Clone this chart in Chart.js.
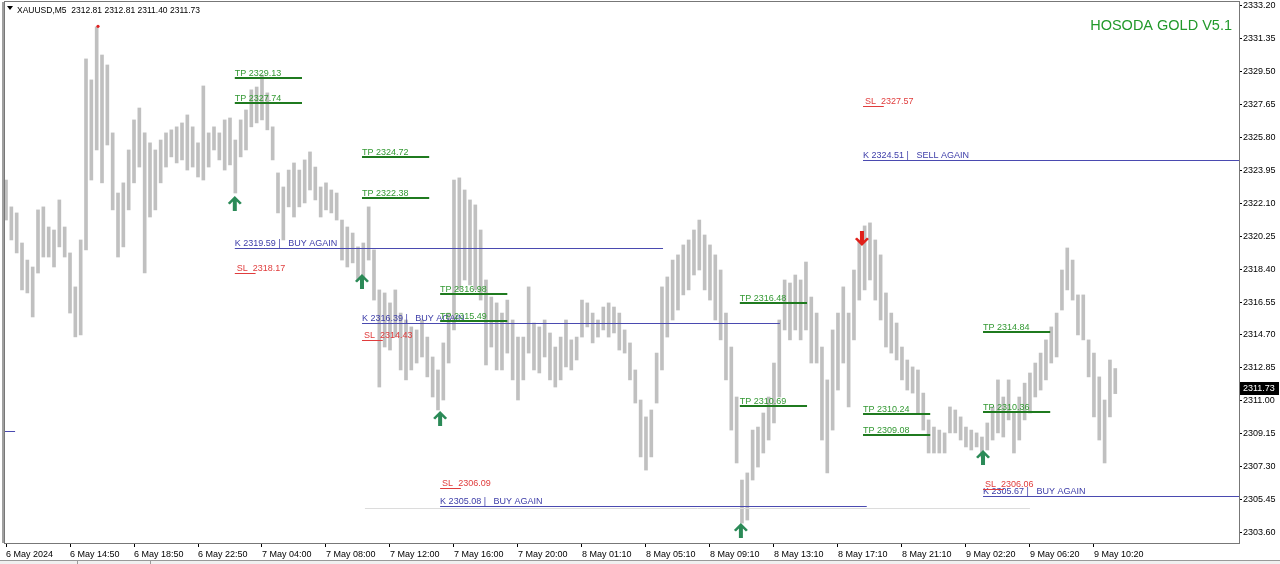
<!DOCTYPE html>
<html>
<head>
<meta charset="utf-8">
<script src="https://cdn.jsdelivr.net/npm/chart.js@4.4.1/dist/chart.umd.min.js"></script>
<style>
html,body{margin:0;padding:0;background:#fff;overflow:hidden}
canvas{display:block}
</style>
</head>
<body>
<canvas id="grafica" width="1280" height="564"></canvas>
<script>
//DATOS
// one bar = 20 min of M5 prices, tick label every 12 bars
const tickLabels=["6 May 2024","6 May 14:50","6 May 18:50","6 May 22:50","7 May 04:00","7 May 08:00","7 May 12:00","7 May 16:00","7 May 20:00","8 May 01:10","8 May 05:10","8 May 09:10","8 May 13:10","8 May 17:10","8 May 21:10","9 May 02:20","9 May 06:20","9 May 10:20"]
const yTicks=[2303.60,2305.45,2307.30,2309.15,2311.00,2312.85,2314.70,2316.55,2318.40,2320.25,2322.10,2323.95,2325.80,2327.65,2329.50,2331.35,2333.20]

const highs=[
2323.41,2321.90,2321.56,2319.87,2318.91,2318.52,2321.73,2321.90,2320.77,2320.60,
2322.29,2320.77,2319.31,2317.40,2320.04,2330.22,2329.04,2332.02,2330.44,2329.88,
2326.06,2322.68,2323.25,2325.10,2326.79,2327.46,2326.06,2325.50,2325.10,2325.66,
2326.06,2326.23,2326.40,2326.62,2327.07,2326.40,2325.50,2328.70,2326.06,2326.40,
2326.06,2326.79,2326.90,2325.66,2326.79,2327.35,2328.48,2328.64,2329.32,2328.31,
2326.40,2323.81,2323.02,2323.97,2324.37,2323.97,2324.54,2324.99,2324.14,2323.02,
2323.25,2322.85,2322.68,2321.16,2320.77,2320.43,2319.65,2319.87,2321.90,2319.48,
2317.23,2317.06,2316.50,2317.23,2315.93,2315.54,2315.15,2314.98,2315.54,2314.58,
2313.46,2312.73,2314.25,2315.93,2323.41,2323.53,2322.85,2322.29,2322.01,2320.60,
2317.79,2316.83,2316.50,2315.93,2316.66,2315.54,2314.58,2314.58,2317.40,2315.37,
2315.15,2315.54,2314.81,2314.02,2314.58,2315.54,2314.42,2314.58,2316.66,2316.50,
2315.93,2315.54,2316.27,2316.50,2316.27,2315.93,2314.98,2314.25,2312.73,2311.04,
2310.09,2310.48,2313.68,2317.40,2317.96,2318.91,2319.20,2319.76,2320.04,2320.60,
2321.16,2320.32,2319.76,2319.20,2318.35,2315.93,2314.02,2311.21,2306.54,2306.94,
2309.35,2309.52,2310.31,2311.21,2313.12,2315.54,2317.79,2317.62,2318.07,2317.79,
2318.80,2316.83,2315.93,2314.02,2312.17,2314.98,2315.93,2317.40,2315.93,2318.35,
2320.04,2320.83,2321.00,2320.04,2319.20,2317.06,2315.93,2315.37,2314.02,2313.29,
2312.90,2312.73,2311.43,2309.92,2309.52,2309.35,2309.19,2310.65,2310.48,2310.09,
2309.52,2309.35,2309.19,2308.96,2309.75,2310.65,2312.17,2311.21,2312.17,2310.31,
2311.21,2311.99,2312.56,2313.12,2313.68,2314.42,2315.15,2315.93,2318.35,2319.59,
2318.91,2316.95,2316.95,2314.42,2313.68,2312.34,2311.04,2313.29,2312.81]
const lows=[
2321.16,2320.04,2319.31,2317.23,2317.06,2315.71,2318.18,2319.08,2319.08,2318.52,
2319.65,2319.08,2315.93,2314.59,2314.70,2319.48,2323.41,2325.10,2323.25,2325.38,
2321.73,2319.08,2319.65,2321.73,2323.25,2324.14,2318.18,2321.33,2321.73,2323.25,
2324.14,2324.71,2324.37,2324.54,2323.97,2324.14,2323.58,2323.41,2324.14,2325.10,
2324.54,2323.97,2324.26,2322.68,2324.71,2325.10,2326.40,2326.62,2326.79,2326.23,
2324.54,2321.56,2320.04,2321.90,2321.33,2321.90,2322.12,2322.85,2322.29,2321.33,
2321.73,2321.56,2321.16,2318.91,2318.52,2318.75,2317.79,2317.96,2318.91,2316.66,
2311.77,2314.02,2313.85,2314.58,2312.73,2312.17,2312.73,2313.12,2313.46,2312.34,
2311.21,2310.48,2311.04,2313.12,2314.98,2317.23,2317.79,2317.51,2317.23,2316.66,
2313.01,2314.02,2312.73,2312.73,2313.68,2312.17,2311.04,2312.17,2313.68,2312.73,
2312.56,2313.46,2312.17,2311.77,2312.17,2312.90,2312.73,2313.29,2314.58,2315.15,
2314.25,2314.58,2314.98,2314.58,2314.81,2313.85,2313.68,2312.17,2310.87,2307.84,
2307.10,2307.84,2310.87,2312.73,2314.58,2315.54,2316.10,2316.95,2317.23,2318.07,
2318.35,2317.23,2316.66,2315.54,2314.42,2312.17,2309.35,2307.50,2304.12,2304.29,
2306.54,2307.27,2308.06,2308.79,2309.75,2311.21,2314.98,2314.42,2314.98,2314.42,
2314.98,2313.12,2313.12,2308.79,2306.94,2309.35,2311.60,2313.12,2310.65,2314.42,
2316.66,2317.23,2317.79,2316.66,2315.54,2314.02,2313.68,2313.29,2312.17,2311.60,
2311.43,2310.31,2309.35,2308.06,2308.06,2308.06,2308.06,2309.19,2309.19,2308.79,
2308.40,2308.23,2308.40,2307.84,2308.23,2308.79,2309.19,2308.96,2309.92,2308.06,
2308.79,2309.92,2310.31,2311.21,2311.60,2312.17,2313.12,2313.46,2316.10,2317.23,
2316.66,2314.70,2314.42,2312.34,2310.09,2308.79,2307.50,2310.09,2311.40]
const lastClose=2311.73

// niveles del indicador
const tpPrices=[2329.13,2327.74,2324.72,2322.38,2316.98,2315.49,2316.48,2310.69,2310.24,2309.08,2314.84,2310.36]
const tpFrom=[42.9,42.9,66.75,66.75,81.4,81.4,137.6,137.6,160.7,160.7,183.2,183.2]
const tpTo=[55.5,55.5,79.35,79.35,94,94,150.2,150.2,173.3,173.3,195.8,195.8]
const slPrices=[2318.17,2314.43,2306.09,2327.57,2306.06]
const slFrom=[42.9,66.75,81.4,160.7,183.2]
const slTo=[46.8,70.65,85.3,164.6,187.1]
const kPrices=[2319.59,2315.39,2305.08,2324.51,2305.67]
const kFrom=[42.9,66.75,81.4,160.7,183.2]
const kTo=[123.2,145.1,161.4,231.2,231.2]
const kTexts=["K 2319.59 |   BUY AGAIN","K 2316.39 |   BUY AGAIN","K 2305.08 |   BUY AGAIN","K 2324.51 |   SELL AGAIN","K 2305.67 |   BUY AGAIN"]
const upArrowBar=[42.9,66.75,81.4,137.8,183.2]
const upArrowPrice=[2322.51,2318.13,2310.42,2304.12,2308.23]
const downArrowBar=[160.5]
const downArrowPrice=[2319.70]
const dotBar=17.25
const dotPrice=2332.05

//CONFIG
const axisFont="'Liberation Sans',Arial,sans-serif"
const txtFont="'Liberation Sans',Arial,sans-serif"

const barData=highs.map((h,i)=>({x:i,y:[lows[i],h]}))

function flecha(ctx,x,y,up,color){
    const s=up?1:-1
    ctx.fillStyle=color
    ctx.beginPath()
    ctx.moveTo(x,y)
    ctx.lineTo(x+7,y+7*s)
    ctx.lineTo(x+5,y+8.5*s)
    ctx.lineTo(x+2,y+5.5*s)
    ctx.lineTo(x+2,y+15*s)
    ctx.lineTo(x-2,y+15*s)
    ctx.lineTo(x-2,y+5.5*s)
    ctx.lineTo(x-5,y+8.5*s)
    ctx.lineTo(x-7,y+7*s)
    ctx.closePath()
    ctx.fill()
}

function hline(ctx,x1,x2,y,color,w){
    ctx.strokeStyle=color
    ctx.lineWidth=w
    ctx.beginPath()
    const yy=w%2?Math.round(y)+0.5:Math.round(y)
    ctx.moveTo(x1,yy)
    ctx.lineTo(x2,yy)
    ctx.stroke()
}

const overlay={
    id:"overlay",
    afterDatasetsDraw(chart){
        const {ctx,chartArea:a}=chart
        const x=chart.scales.x, y=chart.scales.y
        ctx.save()
        ctx.beginPath()
        ctx.rect(a.left,a.top,a.right-a.left,a.bottom-a.top)
        ctx.clip()
        ctx.textAlign="left"
        ctx.textBaseline="alphabetic"
        ctx.font="9px "+txtFont

        // grey line + left stub
        hline(ctx,x.getPixelForValue(67.3),x.getPixelForValue(192),y.getPixelForValue(2304.97),"#dcdcdc",1)
        hline(ctx,a.left,x.getPixelForValue(1.7),y.getPixelForValue(2309.30),"#4a4ab0",1)

        // K lines
        kPrices.forEach((p,i)=>{
            const py=y.getPixelForValue(p)
            const x1=x.getPixelForValue(kFrom[i])
            hline(ctx,x1,x.getPixelForValue(kTo[i]),py,"#4a4ab0",1)
            ctx.fillStyle="#3c3ca8"
            ctx.fillText(kTexts[i],x1,py-2)
        })
        // TP
        tpPrices.forEach((p,i)=>{
            const py=y.getPixelForValue(p)
            const x1=x.getPixelForValue(tpFrom[i])
            hline(ctx,x1,x.getPixelForValue(tpTo[i]),py,"#1f7a1f",2)
            ctx.fillStyle="#339933"
            ctx.fillText("TP "+p.toFixed(2),x1,py-2)
        })
        // SL
        slPrices.forEach((p,i)=>{
            const py=y.getPixelForValue(p)
            const x1=x.getPixelForValue(slFrom[i])
            hline(ctx,x1,x.getPixelForValue(slTo[i]),py,"#e03c3c",1)
            ctx.fillStyle="#e03c3c"
            ctx.fillText("SL  "+p.toFixed(2),x1+2,py-2)
        })
        // flechas
        upArrowBar.forEach((b,i)=>flecha(ctx,x.getPixelForValue(b),y.getPixelForValue(upArrowPrice[i]),true,"#2b8a57"))
        downArrowBar.forEach((b,i)=>flecha(ctx,x.getPixelForValue(b),y.getPixelForValue(downArrowPrice[i]),false,"#e0201a"))
        // punto rojo
        ctx.fillStyle="#e02020"
        ctx.beginPath()
        ctx.arc(x.getPixelForValue(dotBar),y.getPixelForValue(dotPrice),1.6,0,Math.PI*2)
        ctx.fill()

        // titulo
        ctx.font="14.5px "+txtFont
        ctx.fillStyle="#22992a"
        ctx.textAlign="right"
        ctx.fillText("HOSODA GOLD V5.1",1232,30)
        // cabecera
        ctx.textAlign="left"
        ctx.fillStyle="#000"
        ctx.font="8.5px "+axisFont
        ctx.fillText("XAUUSD,M5  2312.81 2312.81 2311.40 2311.73",17,13)
        ctx.beginPath()
        ctx.moveTo(7,6);ctx.lineTo(13,6);ctx.lineTo(10,10);ctx.closePath()
        ctx.fill()
        ctx.restore()
    },
    afterDraw(chart){
        const {ctx,chartArea:a}=chart
        const y=chart.scales.y
        ctx.save()
        // marco
        ctx.strokeStyle="#777"
        ctx.lineWidth=1
        ctx.strokeRect(a.left-0.5,a.top-0.5,a.right-a.left+1,a.bottom-a.top+1)
        ctx.fillStyle="#a0a0a0"
        ctx.fillRect(2,a.top,2,a.bottom-a.top)
        // pestañas abajo
        ctx.fillStyle="#f0f0f0"
        ctx.fillRect(0,560,1280,4)
        ctx.strokeStyle="#999"
        ctx.beginPath()
        ctx.moveTo(0,560.5);ctx.lineTo(1280,560.5)
        ctx.moveTo(77.5,560);ctx.lineTo(77.5,564)
        ctx.moveTo(150.5,560);ctx.lineTo(150.5,564)
        ctx.stroke()
        // caja precio
        const py=y.getPixelForValue(lastClose)
        ctx.fillStyle="#000"
        ctx.fillRect(a.right+1,Math.round(py)-6,39,13)
        ctx.fillStyle="#fff"
        ctx.font="9px "+axisFont
        ctx.textBaseline="middle"
        ctx.fillText(lastClose.toFixed(2),a.right+4,Math.round(py)+0.5)
        ctx.restore()
    }
}

const myChart=new Chart(document.querySelector("#grafica"),{
    type:"bar",
    data:{
        datasets:[{
            data:barData,
            backgroundColor:"#c0c0c0",
            barThickness:3
        }]
    },
    options:{
        responsive:false,
        animation:false,
        devicePixelRatio:1,
        layout:{padding:{left:5,top:2,right:0,bottom:0}},
        plugins:{legend:{display:false},tooltip:{enabled:false}},
        scales:{
            x:{
                type:"linear",
                min:-0.19,
                max:231.2,
                offset:false,
                afterBuildTicks:s=>{s.ticks=tickLabels.map((t,k)=>({value:k*12}))},
                afterFit:s=>{s.height=21;s.paddingLeft=0;s.paddingRight=0},
                ticks:{
                    autoSkip:false,maxRotation:0,align:"start",padding:2,color:"#000",
                    font:{family:axisFont,size:9},
                    callback:v=>tickLabels[Math.round(v/12)]
                },
                grid:{drawOnChartArea:false,offset:false,tickLength:4,color:"#000"},
                border:{color:"#000"}
            },
            y:{
                position:"right",
                min:2303.00,
                max:2333.42,
                afterBuildTicks:s=>{s.ticks=yTicks.map(v=>({value:v}))},
                afterFit:s=>{s.width=41;s.paddingTop=0;s.paddingBottom=0},
                ticks:{
                    padding:1,color:"#000",
                    font:{family:axisFont,size:9},
                    callback:v=>v.toFixed(2)
                },
                grid:{drawOnChartArea:false,tickLength:3,color:"#000"},
                border:{color:"#000"}
            }
        }
    },
    plugins:[overlay]
})
</script>
</body>
</html>
